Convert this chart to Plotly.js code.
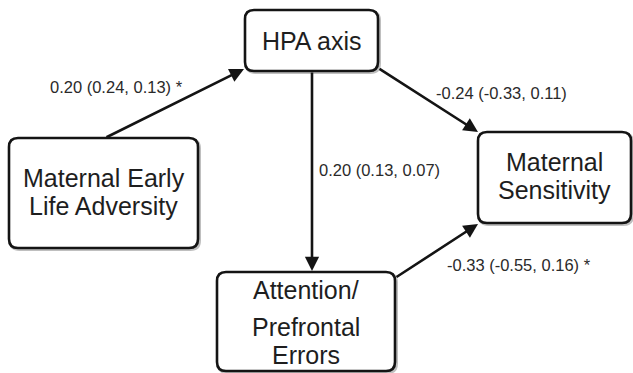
<!DOCTYPE html>
<html>
<head>
<meta charset="utf-8">
<script src="https://cdn.plot.ly/plotly-3.0.1.min.js"></script>
<style>
  html, body { margin: 0; padding: 0; background: #fff; }
  #chart { width: 633px; height: 373px; }
</style>
</head>
<body>
<div id="chart"></div>
<script>
// Path model: nodes (text lines) and standardized path coefficients with intervals
const nodeIds = ["hpa", "adversity", "sensitivity", "attention"];
const nodeLines = [
  ["HPA axis"],
  ["Maternal Early", "Life Adversity"],
  ["Maternal", "Sensitivity"],
  ["Attention/", "Prefrontal", "Errors"]
];
const pathFrom = ["adversity", "hpa", "hpa", "attention"];
const pathTo = ["hpa", "sensitivity", "attention", "sensitivity"];
const pathEstimate = [0.20, -0.24, 0.20, -0.33];
const pathLower = [0.24, -0.33, 0.13, -0.55];
const pathUpper = [0.13, 0.11, 0.07, 0.16];
const pathSignificant = [true, false, false, true];

// Diagram geometry (pixel-space coordinates on a 633 x 373 canvas)
const boxGeom = {
  hpa:         { x0: 245, y0: 10,  x1: 378, y1: 71,  lineY: [41] },
  adversity:   { x0: 9,   y0: 138, x1: 198, y1: 248, lineY: [178, 206] },
  sensitivity: { x0: 478, y0: 132, x1: 631, y1: 223, lineY: [162, 190] },
  attention:   { x0: 217, y0: 272, x1: 395, y1: 371, lineY: [290, 327, 355] }
};
const arrowGeom = [
  { tail: [105, 138], head: [244, 69],  label: [116.5, 87] },
  { tail: [378, 68],  head: [478, 132], label: [501.5, 93] },
  { tail: [312, 71],  head: [312, 271], label: [379, 170] },
  { tail: [395, 278], head: [478, 224], label: [518.5, 265] }
];

const FONT = "Liberation Sans, Arial, Helvetica, sans-serif";

function roundRect(x0, y0, x1, y1, r) {
  return `M ${x0 + r},${y0} L ${x1 - r},${y0} Q ${x1},${y0} ${x1},${y0 + r} ` +
         `L ${x1},${y1 - r} Q ${x1},${y1} ${x1 - r},${y1} ` +
         `L ${x0 + r},${y1} Q ${x0},${y1} ${x0},${y1 - r} ` +
         `L ${x0},${y0 + r} Q ${x0},${y0} ${x0 + r},${y0} Z`;
}

function fmt(v) { return v.toFixed(2); }

const shapes = [];
const annotations = [];

nodeIds.forEach((id, i) => {
  const g = boxGeom[id];
  // soft drop shadow
  shapes.push({
    type: "path", xref: "x", yref: "y",
    path: roundRect(g.x0 + 1.5, g.y0 + 1.5, g.x1 + 1.5, g.y1 + 1.5, 9),
    line: { color: "rgba(0,0,0,0.25)", width: 3 }, layer: "below"
  });
  shapes.push({
    type: "path", xref: "x", yref: "y",
    path: roundRect(g.x0, g.y0, g.x1, g.y1, 9),
    fillcolor: "#ffffff",
    line: { color: "#141414", width: 2.6 }
  });
  const cx = (g.x0 + g.x1) / 2;
  nodeLines[i].forEach((txt, k) => {
    annotations.push({
      xref: "x", yref: "y", x: cx, y: g.lineY[k],
      text: txt, showarrow: false,
      xanchor: "center", yanchor: "middle",
      font: { family: FONT, size: 25, color: "#1e1e1e" }
    });
  });
});

pathFrom.forEach((from, i) => {
  const a = arrowGeom[i];
  annotations.push({
    xref: "x", yref: "y", axref: "x", ayref: "y",
    x: a.head[0], y: a.head[1], ax: a.tail[0], ay: a.tail[1],
    text: "", showarrow: true,
    arrowhead: 2, arrowsize: 1.1, arrowwidth: 2.6, arrowcolor: "#141414",
    standoff: 0, startstandoff: 0
  });
  const label = `${fmt(pathEstimate[i])} (${fmt(pathLower[i])}, ${fmt(pathUpper[i])})` +
                (pathSignificant[i] ? " *" : "");
  annotations.push({
    xref: "x", yref: "y", x: a.label[0], y: a.label[1],
    text: label, showarrow: false,
    xanchor: "center", yanchor: "middle",
    font: { family: FONT, size: 16.5, color: "#2a2a2a" }
  });
});

const layout = {
  width: 633, height: 373,
  margin: { l: 0, r: 0, t: 0, b: 0 },
  paper_bgcolor: "#ffffff", plot_bgcolor: "#ffffff",
  showlegend: false,
  xaxis: { range: [0, 633], visible: false, fixedrange: true },
  yaxis: { range: [373, 0], visible: false, fixedrange: true },
  shapes: shapes,
  annotations: annotations
};

Plotly.newPlot("chart", [{ x: [], y: [], type: "scatter", mode: "markers", hoverinfo: "skip" }],
  layout, { staticPlot: true, displayModeBar: false });
</script>
</body>
</html>
